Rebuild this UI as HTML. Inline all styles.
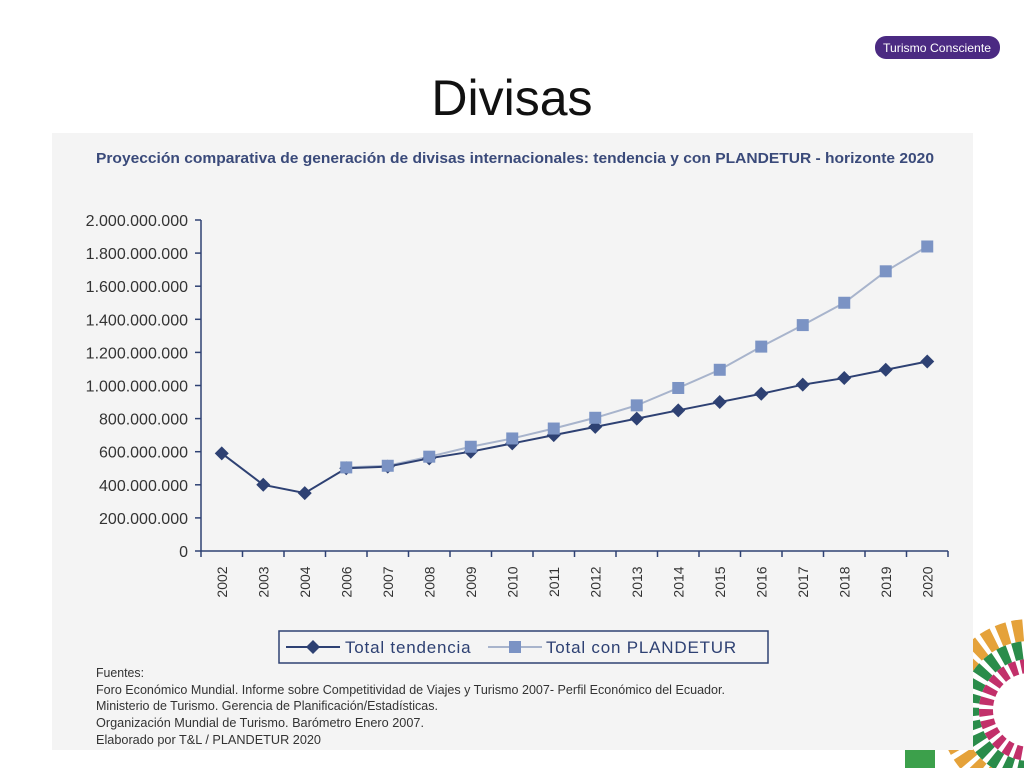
<!DOCTYPE html>
<html><head><meta charset="utf-8"><style>
body{margin:0;background:#fff;width:1024px;height:768px;overflow:hidden;font-family:"Liberation Sans",sans-serif}
</style></head><body>
<svg id="s" width="1024" height="768" xmlns="http://www.w3.org/2000/svg" font-family="Liberation Sans, sans-serif">
<g>
<rect x="875" y="36" width="125" height="23" rx="11" fill="#4b2a82"/>
<text x="937" y="52" font-size="12" fill="#fff" text-anchor="middle" textLength="108" lengthAdjust="spacingAndGlyphs">Turismo Consciente</text>
</g>
<text x="512" y="115" font-size="50" text-anchor="middle" fill="#111">Divisas</text>
<g>
<circle cx="1030" cy="710" r="80" fill="none" stroke="#e5a23a" stroke-width="22" stroke-dasharray="10 5"/>
<circle cx="1030" cy="710" r="60" fill="none" stroke="#2a8c4a" stroke-width="18" stroke-dasharray="9 5"/>
<circle cx="1030" cy="710" r="44" fill="none" stroke="#c2306a" stroke-width="14" stroke-dasharray="7 4"/>
<circle cx="1030" cy="710" r="32" fill="#fff"/>
<rect x="905" y="750" width="30" height="18" fill="#3ca04b"/>
</g>
<rect x="52" y="133" width="921" height="617" fill="#f4f4f4"/>
<text x="515" y="163" font-size="15" font-weight="bold" fill="#3a4a7a" text-anchor="middle" textLength="838" lengthAdjust="spacingAndGlyphs">Proyección comparativa de generación de divisas internacionales: tendencia y con PLANDETUR - horizonte 2020</text>
<g id="plot"></g>
<g>
<rect x="279" y="631" width="489" height="32" fill="#f4f4f4" stroke="#2e4173" stroke-width="1.5"/>
<line x1="286" y1="647" x2="340" y2="647" stroke="#2e4173" stroke-width="2"/>
<path d="M313 640 L320 647 L313 654 L306 647Z" fill="#2e4173"/>
<text x="345" y="653" font-size="17" fill="#2e4173" letter-spacing="0.8">Total tendencia</text>
<line x1="488" y1="647" x2="542" y2="647" stroke="#a8b4cc" stroke-width="2"/>
<rect x="509" y="641" width="12" height="12" fill="#7b93c4"/>
<text x="546" y="653" font-size="17" fill="#2e4173" letter-spacing="0.8">Total con PLANDETUR</text>
</g>
<g font-size="13" fill="#333">
<text x="96" y="677" textLength="48" lengthAdjust="spacingAndGlyphs">Fuentes:</text>
<text x="96" y="694" textLength="629" lengthAdjust="spacingAndGlyphs">Foro Económico Mundial. Informe sobre Competitividad de Viajes y Turismo 2007- Perfil Económico del Ecuador.</text>
<text x="96" y="710" textLength="342" lengthAdjust="spacingAndGlyphs">Ministerio de Turismo. Gerencia de Planificación/Estadísticas.</text>
<text x="96" y="727" textLength="328" lengthAdjust="spacingAndGlyphs">Organización Mundial de Turismo. Barómetro  Enero 2007.</text>
<text x="96" y="744" textLength="225" lengthAdjust="spacingAndGlyphs">Elaborado por T&amp;L / PLANDETUR 2020</text>
</g>
</svg>
<script>
const categories=["2002","2003","2004","2006","2007","2008","2009","2010","2011","2012","2013","2014","2015","2016","2017","2018","2019","2020"];
const tendencia=[590,400,350,500,510,560,600,650,700,750,800,850,900,950,1005,1045,1095,1145];
const plandetur=[null,null,null,505,515,570,630,680,740,805,880,985,1095,1235,1365,1500,1690,1840];
const yTicks=[0,200,400,600,800,1000,1200,1400,1600,1800,2000];
const yTickLabels=["0","200.000.000","400.000.000","600.000.000","800.000.000","1.000.000.000","1.200.000.000","1.400.000.000","1.600.000.000","1.800.000.000","2.000.000.000"];
const NS="http://www.w3.org/2000/svg";
const g=document.getElementById('plot');
const X0=201,X1=948,Y0=551,Y1=220;
const bw=(X1-X0)/categories.length;
function x(i){return X0+bw*(i+0.5);}
function y(v){return Y0-(v/2000)*(Y0-Y1);}
function mk(t,a,p){const e=document.createElementNS(NS,t);for(const k in a)e.setAttribute(k,a[k]);(p||g).appendChild(e);return e;}
let ax=mk('path',{d:`M${X0} ${Y1} V${Y0} H${X1}`,stroke:'#2e4173','stroke-width':1.5,fill:'none'});


yTicks.forEach((v,i)=>{
  const t=mk('line',{x1:X0-6,x2:X0,y1:y(v),y2:y(v),stroke:'#2e4173','stroke-width':1.5});
  
  
  const l=mk('text',{x:X0-13,y:y(v)+6,'font-size':16,fill:'#333','text-anchor':'end'});
  l.textContent=yTickLabels[i];
  
  
});
for(let i=0;i<=categories.length;i++){
  const t=mk('line',{x1:X0+bw*i,x2:X0+bw*i,y1:Y0,y2:Y0+6,stroke:'#2e4173','stroke-width':1.5});
  
  
}
categories.forEach((c,i)=>{
  const l=mk('text',{x:0,y:0,'font-size':14,fill:'#333','text-anchor':'middle',transform:`translate(${x(i)+5},${582}) rotate(-90)`});
  l.textContent=c;
  
  
});
function pts(arr){return arr.map((v,i)=>v==null?null:[x(i),y(v)]).filter(p=>p);}
const pp=pts(plandetur);
let l2=mk('polyline',{points:pp.map(p=>p.join(',')).join(' '),fill:'none',stroke:'#a8b4cc','stroke-width':2});


const tp=pts(tendencia);
let l1=mk('polyline',{points:tp.map(p=>p.join(',')).join(' '),fill:'none',stroke:'#2e4173','stroke-width':2});


tp.forEach(p=>{
  const d=mk('path',{d:`M${p[0]} ${p[1]-7} L${p[0]+7} ${p[1]} L${p[0]} ${p[1]+7} L${p[0]-7} ${p[1]}Z`,fill:'#2e4173'});
  
  
});
pp.forEach(p=>{
  const r=mk('rect',{x:p[0]-6,y:p[1]-6,width:12,height:12,fill:'#7b93c4'});
  
  
});
</script>
</body></html>
